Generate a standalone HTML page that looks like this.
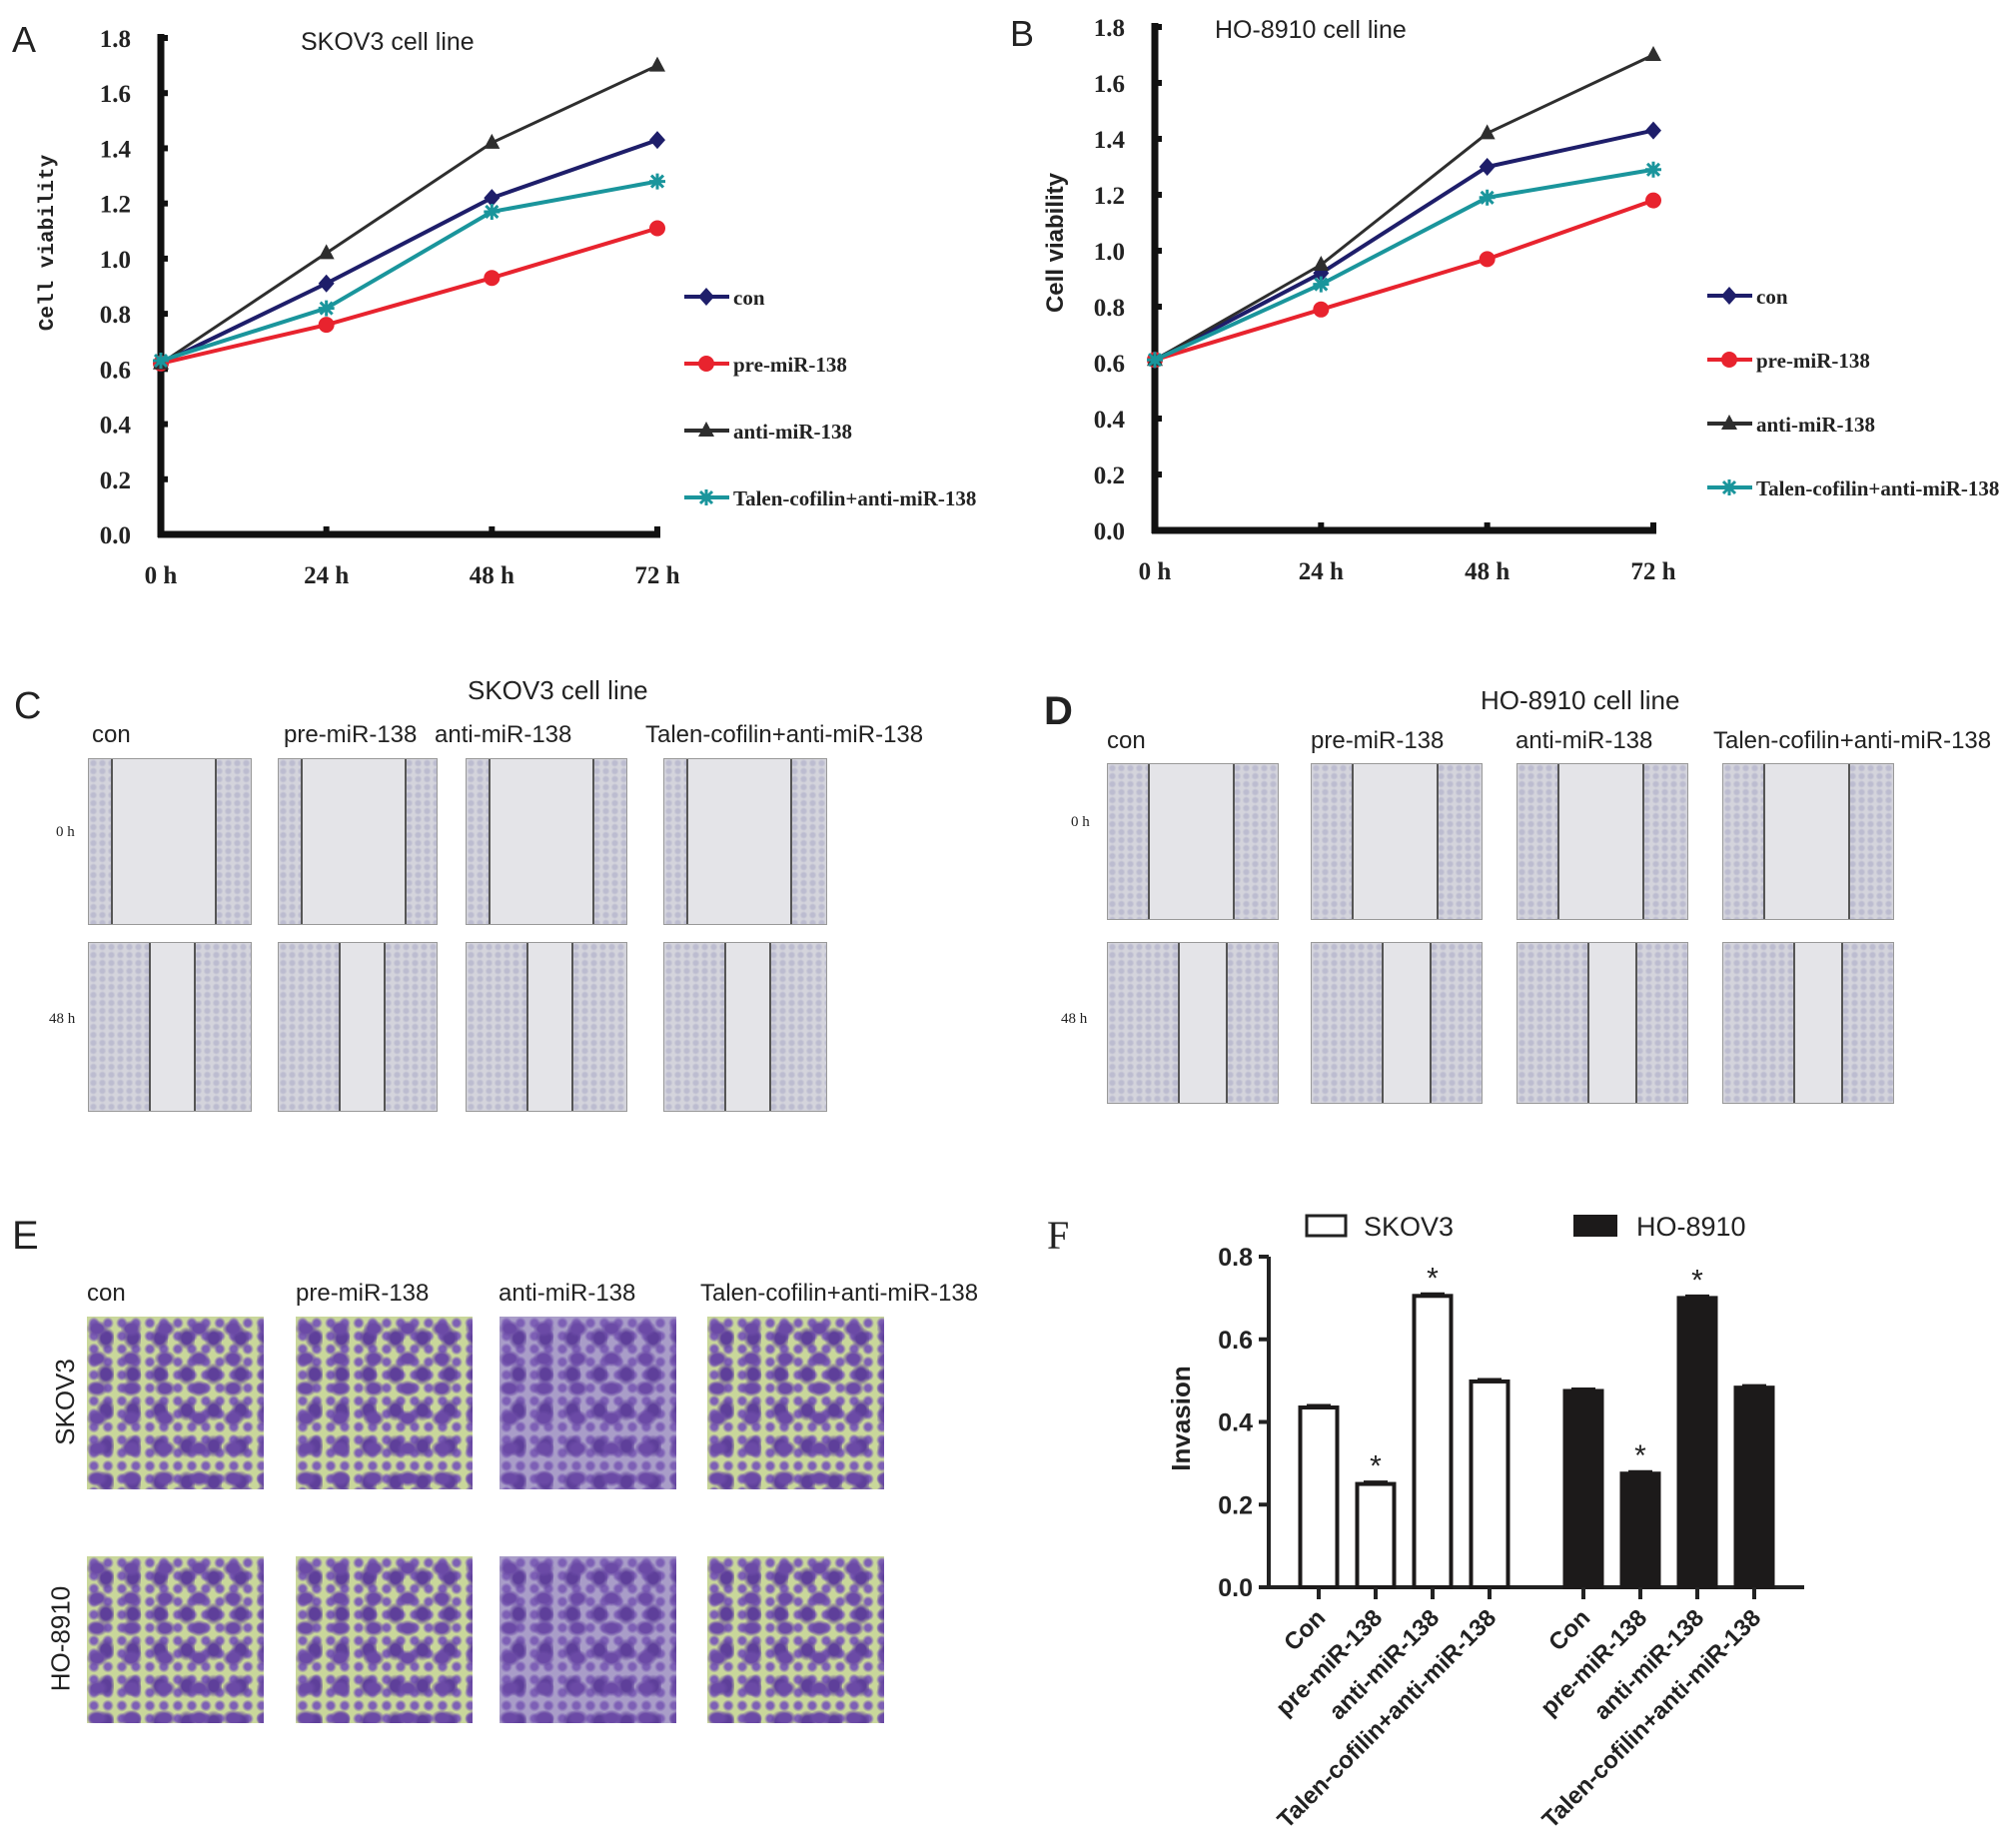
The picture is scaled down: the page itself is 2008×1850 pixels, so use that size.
<!DOCTYPE html>
<html><head><meta charset="utf-8">
<style>
body{margin:0;background:#fff;}
#root{position:relative;width:2008px;height:1850px;overflow:hidden;font-family:"Liberation Sans",sans-serif;}
.t{position:absolute;white-space:nowrap;color:#222;}
.img{position:absolute;overflow:hidden;border:1px solid #999;}
.scr{background-color:#e4e4e8;}
.scr .edge{position:absolute;top:0;bottom:0;background-color:#d4d4dc;
 background-image:radial-gradient(circle at 50% 50%,#bcbcd0 2px,transparent 4px);background-size:9px 8px;}
.scr .ln{position:absolute;top:0;bottom:0;width:2px;background:#555;}
.inv{background-color:#c9d79a;
 background-image:radial-gradient(ellipse at 30% 40%,#6b4aa6 6px,transparent 11px),radial-gradient(ellipse at 70% 60%,#5e3f9a 5px,transparent 10px),radial-gradient(circle,#7d5fb5 3px,transparent 6px);
 background-size:34px 30px,27px 36px,14px 13px;}
.inv.dense{background-color:#a99dc8;}
</style></head>
<body>
<div id="root">
<svg id="svgA" width="2008" height="1850" style="position:absolute;left:0;top:0"></svg>
</div>
<script>
// ---- Panel A / B data ----
const timeLabels=["0 h","24 h","48 h","72 h"];
const yTicksAB=[0.0,0.2,0.4,0.6,0.8,1.0,1.2,1.4,1.6,1.8];
const seriesNames=["con","pre-miR-138","anti-miR-138","Talen-cofilin+anti-miR-138"];
const aCon=[0.62,0.91,1.22,1.43];
const aPre=[0.62,0.76,0.93,1.11];
const aAnti=[0.62,1.02,1.42,1.70];
const aTalen=[0.63,0.82,1.17,1.28];
const bCon=[0.61,0.92,1.30,1.43];
const bPre=[0.61,0.79,0.97,1.18];
const bAnti=[0.61,0.95,1.42,1.70];
const bTalen=[0.61,0.88,1.19,1.29];
// ---- Panel F data ----
const fCategories=["Con","pre-miR-138","anti-miR-138","Talen-cofilin+anti-miR-138"];
const fSkov=[0.435,0.25,0.705,0.498];
const fHo=[0.475,0.275,0.70,0.483];
const fStars=[false,true,true,false];
const fTicks=[0.0,0.2,0.4,0.6,0.8];

const NS="http://www.w3.org/2000/svg";
const svg=document.getElementById('svgA');
function mk(tag,attrs,parent){const e=document.createElementNS(NS,tag);for(const k in attrs)e.setAttribute(k,attrs[k]);(parent||svg).appendChild(e);return e;}
const colors=["#1e1e6a","#e8232e","#2e2e2e","#1a959c"];

function marker(g,type,x,y,c){
 let m;
 if(type===0){m=mk('polygon',{points:`${x},${y-9} ${x+8},${y} ${x},${y+9} ${x-8},${y}`,fill:c},g);}
 else if(type===1){m=mk('circle',{cx:x,cy:y,r:8,fill:c},g);}
 else if(type===2){m=mk('polygon',{points:`${x},${y-9} ${x+8},${y+6} ${x-8},${y+6}`,fill:c},g);}
 else {m=mk('path',{d:`M${x-8} ${y}H${x+8}M${x} ${y-8}V${y+8}M${x-6} ${y-6}L${x+6} ${y+6}M${x+6} ${y-6}L${x-6} ${y+6}`,stroke:c,'stroke-width':3},g);}
 
 
}

function lineChart(id,ax,y0,y18,xs,data,leg,title,titleX,titleY,letter,lx,ly,ytx){
 const g=mk('g',{});
 
 
 const yS=v=>y0-(v/1.8)*(y0-y18);
 const xS=i=>xs[0]+i*(xs[1]-xs[0])/3;
 mk('line',{x1:ax,y1:y18-4,x2:ax,y2:y0+3,stroke:'#111','stroke-width':7},g);
 mk('line',{x1:ax-3,y1:y0,x2:xS(3)+3,y2:y0,stroke:'#111','stroke-width':7},g);
 yTicksAB.forEach(v=>{
  mk('line',{x1:ax,y1:yS(v),x2:ax+7,y2:yS(v),stroke:'#111','stroke-width':6},g);
  const t=mk('text',{x:ax-30,y:yS(v)+9,'text-anchor':'end','font-family':'Liberation Serif','font-weight':'bold','font-size':25,fill:'#222'},g);t.textContent=v.toFixed(1);
  
 });
 timeLabels.forEach((l,i)=>{
  if(i>0)mk('line',{x1:xS(i),y1:y0,x2:xS(i),y2:y0-8,stroke:'#111','stroke-width':6},g);
  const t=mk('text',{x:xS(i),y:y0+49,'text-anchor':'middle','font-family':'Liberation Serif','font-weight':'bold','font-size':25,fill:'#222'},g);t.textContent=l;
  
 });
 data.forEach((s,k)=>{
  const pts=s.map((v,i)=>xS(i)+','+yS(v)).join(' ');
  const pl=mk('polyline',{points:pts,fill:'none',stroke:colors[k],'stroke-width':k===2?3:4},g);
  
  s.forEach((v,i)=>marker(g,k,xS(i),yS(v),colors[k]));
  const yy=leg[1]+k*leg[2];
  mk('line',{x1:leg[0],y1:yy,x2:leg[0]+45,y2:yy,stroke:colors[k],'stroke-width':4},g);
  marker(g,k,leg[0]+22,yy,colors[k]);
  const t=mk('text',{x:leg[0]+49,y:yy+8,'font-family':'Liberation Serif','font-weight':'bold','font-size':21,fill:'#222'},g);t.textContent=seriesNames[k];
  
 });
 let t=mk('text',{x:titleX,y:titleY,'font-family':'Liberation Sans','font-size':25,fill:'#222'},g);t.textContent=title;
 
 t=mk('text',{x:lx,y:ly,'font-family':'Liberation Sans','font-size':36,fill:'#222'},g);t.textContent=letter;
 
 t=mk('text',{x:ytx,y:243,'text-anchor':'middle',transform:`rotate(-90 ${ytx} 243)`,'font-family':ytx<100?'Liberation Mono':'Liberation Sans','font-weight':'bold','font-size':ytx<100?21:24,fill:'#222'},g);t.textContent='Cell viability';
 
}
lineChart('panel-a-chart',161,535,38,[161,658],[aCon,aPre,aAnti,aTalen],[685,297,67],'SKOV3 cell line',301,50,'A',12,52,53);
lineChart('panel-b-chart',1156,531,27,[1156,1655],[bCon,bPre,bAnti,bTalen],[1709,296,64],'HO-8910 cell line',1216,38,'B',1011,46,1064);

// ---- Panel F ----
(function(){
 const g=mk('g',{});
 
 
 const ax=1270,y0=1589,y8=1258,xEnd=1806;
 const yS=v=>y0-(v/0.8)*(y0-y8);
 const bx0=1320,gap=57,grpGap=265,bw=37;
 const xc=(grp,i)=>bx0+i*gap+grp*grpGap;
 mk('line',{x1:ax,y1:y8,x2:ax,y2:y0,stroke:'#222','stroke-width':4},g);
 mk('line',{x1:ax-10,y1:y0,x2:xEnd,y2:y0,stroke:'#222','stroke-width':4},g);
 fTicks.forEach(v=>{
  mk('line',{x1:ax-10,y1:yS(v),x2:ax,y2:yS(v),stroke:'#222','stroke-width':4},g);
  const t=mk('text',{x:ax-16,y:yS(v)+9,'text-anchor':'end','font-weight':'bold','font-size':25,fill:'#222'},g);t.textContent=v.toFixed(1);
  
 });
 [fSkov,fHo].forEach((arr,grp)=>{
  arr.forEach((v,i)=>{
   const x=xc(grp,i);
   const r=mk('rect',{x:x-bw/2,y:yS(v),width:bw,height:y0-yS(v),fill:grp?'#1c1a1a':'#fff',stroke:'#1c1a1a','stroke-width':4},g);
   
   mk('line',{x1:x-12,y1:yS(v)-2,x2:x+12,y2:yS(v)-2,stroke:'#1c1a1a','stroke-width':3},g);
   mk('line',{x1:x,y1:y0,x2:x,y2:y0+12,stroke:'#222','stroke-width':4},g);
   if(fStars[i]){const s=mk('text',{x:x,y:yS(v)-8,'text-anchor':'middle','font-size':30,fill:'#222'},g);s.textContent='*';
    }
   const lx=x+8,ly=y0+32;
   const t=mk('text',{x:lx,y:ly,'text-anchor':'end',transform:`rotate(-45 ${lx} ${ly})`,'font-weight':'bold','font-size':24,fill:'#222'},g);t.textContent=fCategories[i];
   
  });
 });
 let t=mk('text',{x:1191,y:1420,'text-anchor':'middle',transform:'rotate(-90 1191 1420)','font-weight':'bold','font-size':26,fill:'#222'},g);t.textContent='Invasion';
 
 let r=mk('rect',{x:1308,y:1217,width:39,height:20,fill:'#fff',stroke:'#222','stroke-width':3},g);
 
 t=mk('text',{x:1365,y:1237,'font-size':27,fill:'#222'},g);t.textContent='SKOV3';
 
 r=mk('rect',{x:1575,y:1216,width:44,height:22,fill:'#1c1a1a'},g);
 
 t=mk('text',{x:1638,y:1237,'font-size':27,fill:'#222'},g);t.textContent='HO-8910';
 
 t=mk('text',{x:1048,y:1250,'font-family':'Liberation Serif','font-size':40,fill:'#222'},g);t.textContent='F';
 
})();

// ---- image panels (photos approximated) ----
const root=document.getElementById('root');
function txt(s,x,y,size,name,extra){const d=document.createElement('div');d.className='t';d.textContent=s;d.style.left=x+'px';d.style.top=y+'px';d.style.fontSize=size+'px';if(extra)d.style.cssText+=extra;
 
 
 root.appendChild(d);return d;}
function scratch(x,y,w,h,l1,l2,name){const d=document.createElement('div');d.className='img scr';d.style.cssText+=`left:${x}px;top:${y}px;width:${w}px;height:${h}px`;
 d.innerHTML=`<div class="edge" style="left:0;width:${l1}px"></div><div class="edge" style="left:${l2}px;right:0"></div><div class="ln" style="left:${l1}px"></div><div class="ln" style="left:${l2}px"></div>`;
 
 
 root.appendChild(d);}
txt('C',14,686,38,'panel-label');
txt('SKOV3 cell line',468,676,26,'panel-c-title');
[['con',92],['pre-miR-138',284],['anti-miR-138',435],['Talen-cofilin+anti-miR-138',646]].forEach(a=>txt(a[0],a[1],722,24,'column-label'));
txt('0 h',56,825,15,'row-label',"font-family:'Liberation Serif'");
txt('48 h',49,1012,15,'row-label',"font-family:'Liberation Serif'");
const cCols=[88,278,466,664],cW=[162,158,160,162];
cCols.forEach((x,i)=>{scratch(x,759,cW[i],165,22,126,'scratch-image-0h');scratch(x,943,cW[i],168,60,105,'scratch-image-48h');});
txt('D',1045,690,40,'panel-label',"font-weight:bold");
txt('HO-8910 cell line',1482,686,26,'panel-d-title');
[['con',1108],['pre-miR-138',1312],['anti-miR-138',1517],['Talen-cofilin+anti-miR-138',1715]].forEach(a=>txt(a[0],a[1],728,24,'column-label'));
txt('0 h',1072,815,15,'row-label',"font-family:'Liberation Serif'");
txt('48 h',1062,1012,15,'row-label',"font-family:'Liberation Serif'");
const dCols=[1108,1312,1518,1724];
dCols.forEach((x,i)=>{scratch(x,764,170,155,40,125,'scratch-image-0h');scratch(x,943,170,160,70,118,'scratch-image-48h');});
txt('E',12,1215,40,'panel-label');
[['con',87],['pre-miR-138',296],['anti-miR-138',499],['Talen-cofilin+anti-miR-138',701]].forEach(a=>txt(a[0],a[1],1281,24,'column-label'));
txt('SKOV3',22,1388,26,'row-label','transform:rotate(-90deg);transform-origin:center;');
txt('HO-8910',8,1625,26,'row-label','transform:rotate(-90deg);transform-origin:center;');
const eCols=[87,296,500,708];
eCols.forEach((x,i)=>{[1318,1558].forEach((y,r)=>{const d=document.createElement('div');d.className='img inv'+(i===2?' dense':'');
 d.style.cssText+=`left:${x}px;top:${y}px;width:177px;height:${r?167:173}px;border:none`;
 
 
 root.appendChild(d);});});
</script>
</body></html>
